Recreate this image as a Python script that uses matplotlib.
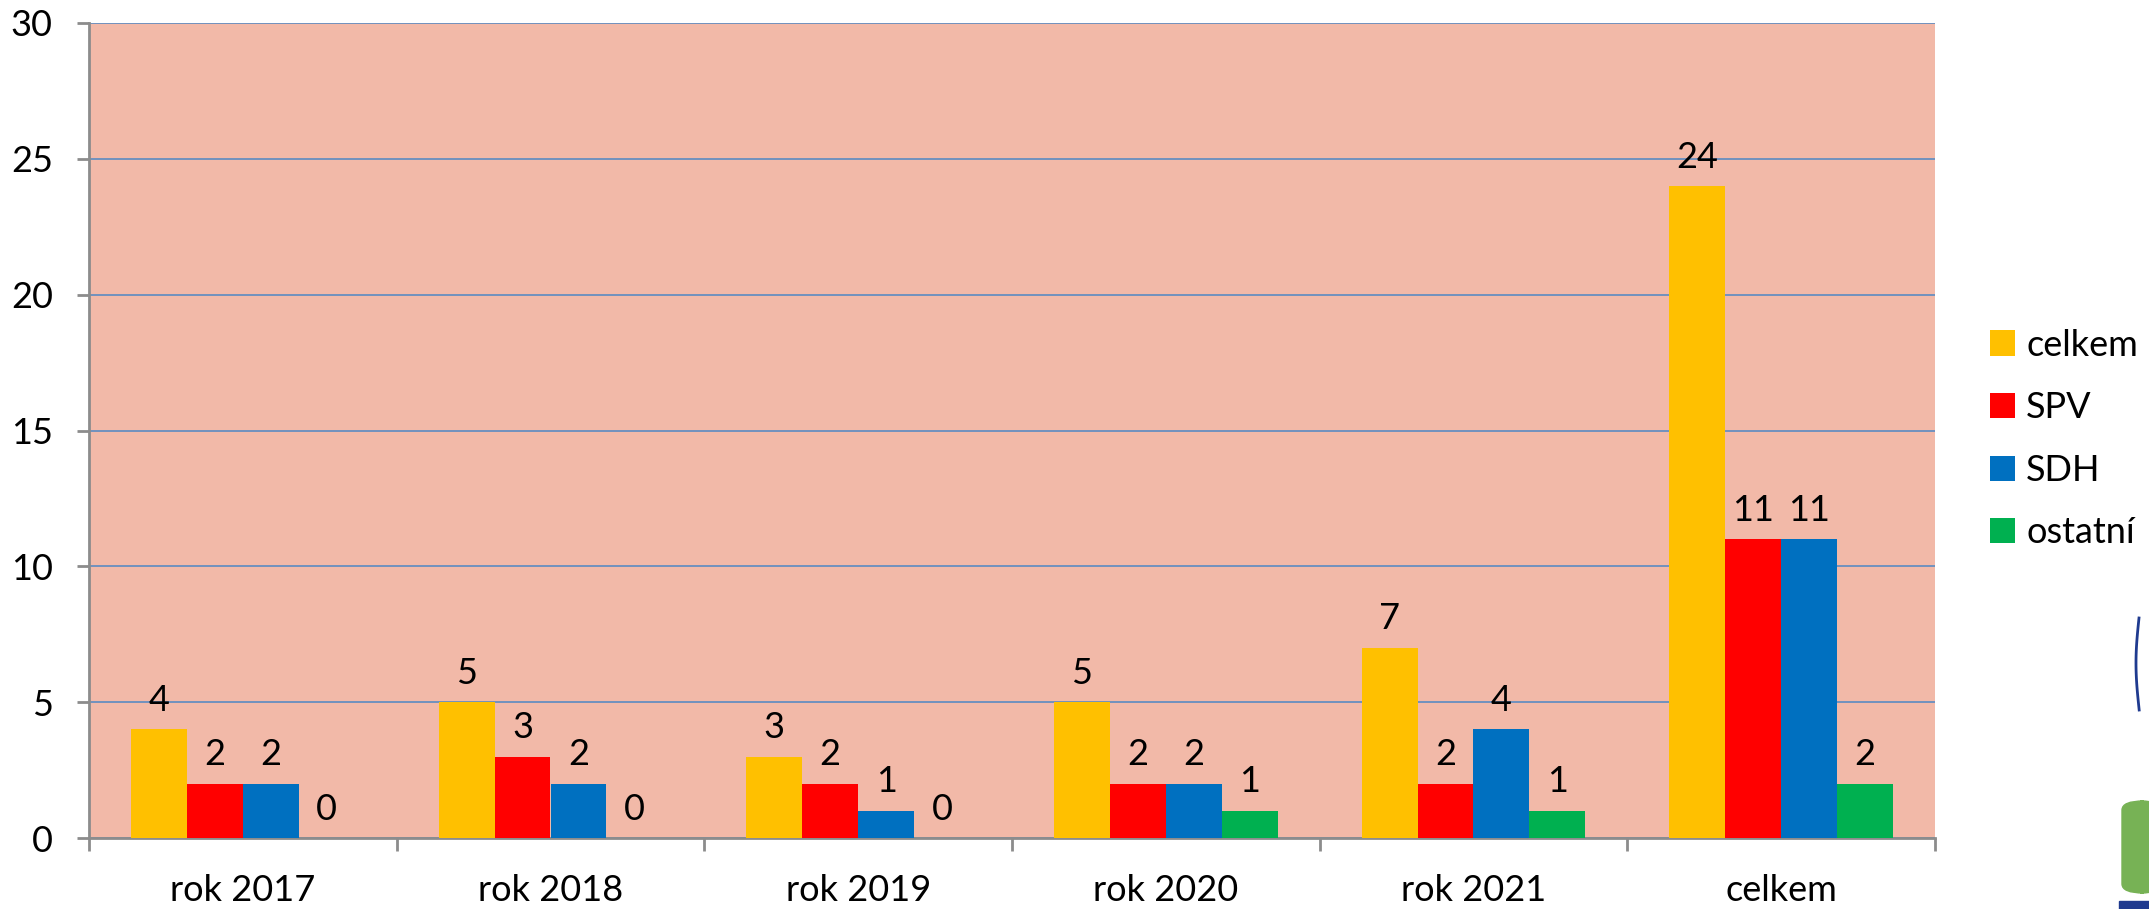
import numpy as np
import matplotlib.pyplot as plt
from matplotlib.patches import FancyBboxPatch

plt.rcParams['font.family'] = ['Lato', 'DejaVu Sans']

categories = ['rok 2017', 'rok 2018', 'rok 2019', 'rok 2020', 'rok 2021', 'celkem']
series_names = ['celkem', 'SPV', 'SDH', 'ostatní']
celkem = [4, 5, 3, 5, 7, 24]
spv = [2, 3, 2, 2, 2, 11]
sdh = [2, 2, 1, 2, 4, 11]
ostatni = [0, 0, 0, 1, 1, 2]
colors = ['#FFC000', '#FF0000', '#0070C0', '#00B050']

W, H = 2149, 909
fig = plt.figure(figsize=(W / 100, H / 100), dpi=100)
ax = fig.add_axes([89 / W, 71 / H, (1935 - 89) / W, (838 - 23) / H])
ax.set_facecolor('#F2B9A8')

fs = 26
x = np.arange(len(categories))
bw = 0.182
handles = []
for i, (vals, col) in enumerate(zip([celkem, spv, sdh, ostatni], colors)):
    pos = x + (i - 1.5) * bw
    b = ax.bar(pos, vals, width=bw, color=col, zorder=3, label=series_names[i])
    handles.append(b)
    for p, v in zip(pos, vals):
        ax.annotate(str(v), (p, v), xytext=(0, 9), textcoords='offset points',
                    ha='center', va='bottom', fontsize=fs, zorder=4)

ax.set_xlim(-0.5, len(categories) - 0.5)
ax.set_ylim(0, 30)
ax.set_yticks(range(0, 31, 5))
ax.yaxis.grid(True, color='#5B8BC2', linewidth=1.2, zorder=1)
ax.set_axisbelow(True)

ax.set_xticks(x)
ax.set_xticklabels(categories)
ax.set_xticks(np.arange(-0.5, len(categories)), minor=True)
ax.tick_params(axis='x', which='major', length=0, pad=26, labelsize=fs)
ax.tick_params(axis='x', which='minor', length=9, width=2, color='#8C8C8C')
ax.tick_params(axis='y', length=9, width=2, color='#8C8C8C', pad=17, labelsize=fs)

for s in ['top', 'right']:
    ax.spines[s].set_visible(False)
for s in ['left', 'bottom']:
    ax.spines[s].set_color('#8C8C8C')
    ax.spines[s].set_linewidth(2)

leg = fig.legend(handles=handles, labels=series_names, loc='center left',
                 bbox_to_anchor=(1990 / W, 470 / H), frameon=False, fontsize=fs,
                 handlelength=0.7, handleheight=0.7, handletextpad=0.3,
                 labelspacing=0.82, borderpad=0, borderaxespad=0)

# partial logos at right edge
fig.patches.append(FancyBboxPatch((2122 / W, 16 / H), 40 / W, 92 / H,
                                  boxstyle='round,pad=0,rounding_size=0.01',
                                  transform=fig.transFigure, color='#77B255'))
fig.patches.append(plt.Rectangle((2119 / W, 0), 40 / W, 8 / H,
                                 transform=fig.transFigure, color='#1F3A8F'))
t = np.linspace(0, 1, 50)
fig.add_artist(plt.Line2D((2149 - 10 - 3 * np.sin(t * 3.2)) / W,
                          (909 - 618 - 92 * t) / H, transform=fig.transFigure,
                          color='#1F3A8F', linewidth=2))

fig.savefig('out.png', dpi=100)
